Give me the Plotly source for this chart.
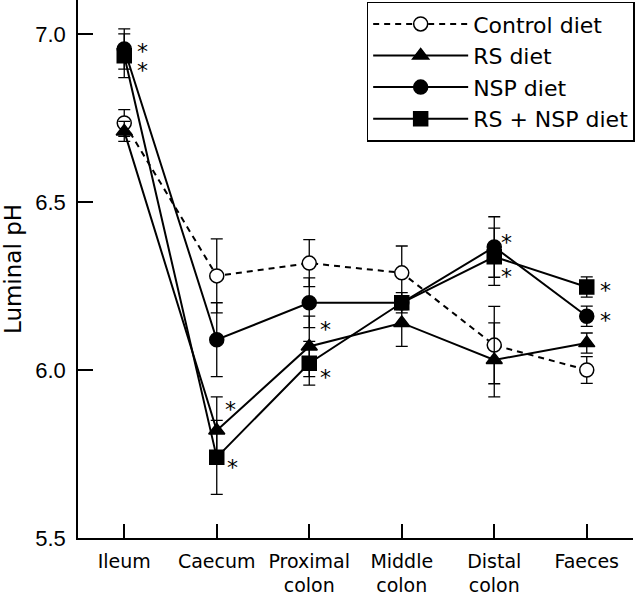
import plotly.graph_objects as go

### DATA
categories = ["Ileum", "Caecum", "Proximal<br>colon", "Middle<br>colon", "Distal<br>colon", "Faeces"]

control = [6.735, 6.28, 6.318, 6.289, 6.074, 6.00]
control_se = [0.04, 0.11, 0.07, 0.08, 0.115, 0.04]

rs = [6.71, 5.82, 6.07, 6.14, 6.03, 6.08]
rs_se = [0.03, 0.10, 0.09, 0.07, 0.11, 0.03]

nsp = [6.955, 6.09, 6.20, 6.20, 6.366, 6.16]
nsp_se = [0.06, 0.11, 0.074, 0.03, 0.09, 0.03]

rs_nsp = [6.935, 5.74, 6.02, 6.20, 6.337, 6.247]
rs_nsp_se = [0.065, 0.11, 0.065, 0.02, 0.085, 0.03]

# significance asterisks (category index, pH position)
star_cats = [0, 0, 1, 1, 2, 2, 4, 4, 5, 5]
star_vals = [6.964, 6.905, 5.896, 5.726, 6.134, 5.994, 6.393, 6.292, 6.25, 6.161]
star_dx = [18, 18, 14, 16, 16, 16, 12, 12, 19, 19]

SANS = "Liberation Sans, Arial, sans-serif"
WIDE = "DejaVu Sans, sans-serif"
x = list(range(len(categories)))

series = [
    ("Control diet", control, control_se, "circle", "white", "6px,5px"),
    ("RS diet", rs, rs_se, "triangle-up", "black", "solid"),
    ("NSP diet", nsp, nsp_se, "circle", "black", "solid"),
    ("RS + NSP diet", rs_nsp, rs_nsp_se, "square", "black", "solid"),
]

fig = go.Figure()
for name, vals, se, sym, fill, dash in series:
    fig.add_trace(go.Scatter(
        x=x, y=vals, name=name, mode="lines+markers",
        line=dict(color="black", width=2, dash=dash),
        marker=dict(symbol=sym, size=14, color=fill, line=dict(color="black", width=1.5)),
        error_y=dict(type="data", array=se, color="black", thickness=1.3, width=6),
    ))

for c, v, dx in zip(star_cats, star_vals, star_dx):
    fig.add_annotation(
        x=c, y=v, text="*", showarrow=False, xshift=dx, yshift=-5,
        font=dict(size=22, color="black", family=WIDE),
    )

fig.update_xaxes(
    range=[-0.5, 5.5], tickvals=x, ticktext=categories,
    showline=True, linecolor="black", linewidth=1.5,
    ticks="inside", ticklen=14, tickwidth=1.5, tickcolor="black",
    showgrid=False, zeroline=False, automargin=False,
    tickfont=dict(size=19, color="black", family=WIDE),
    ticklabelstandoff=5,
)
fig.update_yaxes(
    range=[5.5, 7.101], tickvals=[5.5, 6.0, 6.5, 7.0], ticktext=["5.5", "6.0", "6.5", "7.0"],
    showline=True, linecolor="black", linewidth=1.5,
    ticks="inside", ticklen=15, tickwidth=1.5, tickcolor="black",
    showgrid=False, zeroline=False, automargin=False,
    tickfont=dict(size=22, color="black", family=SANS),
    ticklabelstandoff=6,
    title=dict(text="Luminal pH", font=dict(size=23, color="black", family=WIDE), standoff=14),
)

fig.update_layout(
    template="none",
    width=640, height=593,
    margin=dict(l=78, r=7, t=0, b=55),
    plot_bgcolor="white", paper_bgcolor="white",
    font=dict(family=SANS, color="black"),
    legend=dict(
        x=1.003, xanchor="right", y=0.997, yanchor="top",
        bordercolor="black", borderwidth=1.5, bgcolor="white",
        font=dict(size=22, color="black", family=WIDE),
        itemwidth=95,
    ),
)

# page body has a default 8px margin; drop it so the figure sits at the corner
fig.write_html(
    "out.html",
    config={"displayModeBar": False},
    post_script="document.body.style.margin='0';",
)
